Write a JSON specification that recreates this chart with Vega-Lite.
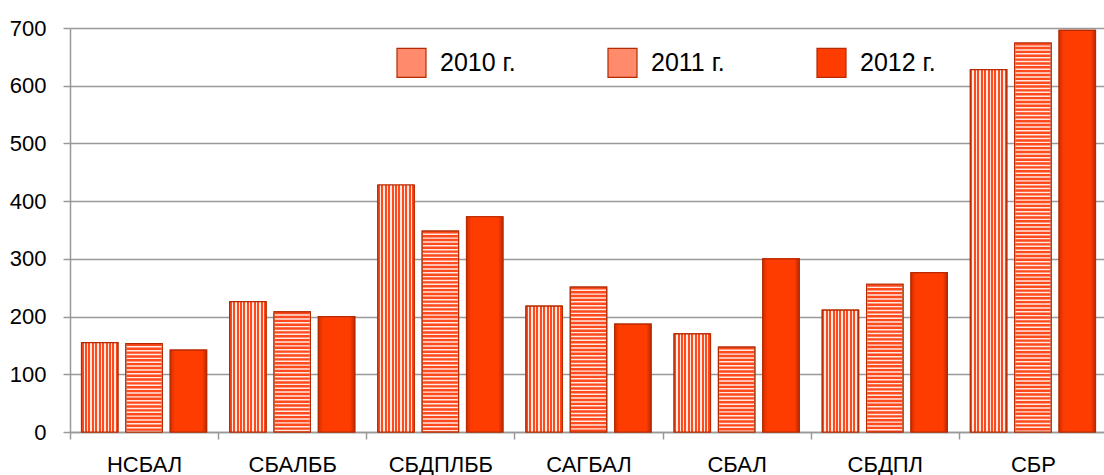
{
  "$schema": "https://vega.github.io/schema/vega-lite/v6.json",
  "width": 1037,
  "height": 404,
  "autosize": {"type": "none"},
  "padding": {"left": 70, "top": 28, "right": 0, "bottom": 43},
  "background": "white",
  "config": {"view": {"stroke": null}, "font": "Liberation Sans"},
  "data": {
    "values": [
      {"cat": "НСБАЛ", "year": "2010 г.", "v": 155},
      {"cat": "НСБАЛ", "year": "2011 г.", "v": 153},
      {"cat": "НСБАЛ", "year": "2012 г.", "v": 142},
      {"cat": "СБАЛББ", "year": "2010 г.", "v": 226},
      {"cat": "СБАЛББ", "year": "2011 г.", "v": 208},
      {"cat": "СБАЛББ", "year": "2012 г.", "v": 200},
      {"cat": "СБДПЛББ", "year": "2010 г.", "v": 428},
      {"cat": "СБДПЛББ", "year": "2011 г.", "v": 348},
      {"cat": "СБДПЛББ", "year": "2012 г.", "v": 373},
      {"cat": "САГБАЛ", "year": "2010 г.", "v": 218},
      {"cat": "САГБАЛ", "year": "2011 г.", "v": 251},
      {"cat": "САГБАЛ", "year": "2012 г.", "v": 187},
      {"cat": "СБАЛ", "year": "2010 г.", "v": 170},
      {"cat": "СБАЛ", "year": "2011 г.", "v": 147},
      {"cat": "СБАЛ", "year": "2012 г.", "v": 300},
      {"cat": "СБДПЛ", "year": "2010 г.", "v": 211},
      {"cat": "СБДПЛ", "year": "2011 г.", "v": 256},
      {"cat": "СБДПЛ", "year": "2012 г.", "v": 276},
      {"cat": "СБР", "year": "2010 г.", "v": 628},
      {"cat": "СБР", "year": "2011 г.", "v": 674},
      {"cat": "СБР", "year": "2012 г.", "v": 696}
    ]
  },
  "encoding": {
    "x": {
      "field": "cat",
      "type": "nominal",
      "sort": ["НСБАЛ", "СБАЛББ", "СБДПЛББ", "САГБАЛ", "СБАЛ", "СБДПЛ", "СБР"],
      "scale": {"paddingInner": 0, "paddingOuter": 0},
      "axis": {
        "title": null,
        "tickBand": "extent",
        "labelAngle": 0,
        "labelFontSize": 22,
        "labelColor": "black",
        "labelPadding": 15,
        "tickSize": 7,
        "tickColor": "#999999",
        "tickWidth": 1.5,
        "domainColor": "#999999",
        "domainWidth": 1.5,
        "grid": false
      }
    },
    "xOffset": {
      "field": "year",
      "type": "nominal",
      "scale": {"paddingInner": 0.18, "paddingOuter": 0.26}
    },
    "y": {
      "field": "v",
      "type": "quantitative",
      "scale": {"domain": [0, 700], "nice": false},
      "axis": {
        "title": null,
        "values": [0, 100, 200, 300, 400, 500, 600, 700],
        "grid": true,
        "gridColor": "#999999",
        "gridWidth": 1.5,
        "domainColor": "#999999",
        "domainWidth": 1.5,
        "tickColor": "#999999",
        "tickWidth": 1.5,
        "tickSize": 7,
        "labelFontSize": 22,
        "labelColor": "black",
        "labelPadding": 17
      }
    }
  },
  "layer": [
    {
      "mark": {"type": "bar", "stroke": "#B52A00", "strokeWidth": 1.2},
      "encoding": {
        "fill": {
          "field": "year",
          "type": "nominal",
          "scale": {
            "domain": ["2010 г.", "2011 г.", "2012 г."],
            "range": ["#FF8A6C", "#FF8A6C", "#FF3C00"]
          },
          "legend": {
            "orient": "none",
            "legendX": 326,
            "legendY": 19,
            "direction": "horizontal",
            "title": null,
            "symbolType": "square",
            "symbolSize": 841,
            "symbolStrokeColor": "#B52A00",
            "symbolStrokeWidth": 1.2,
            "symbolOpacity": 1,
            "labelFontSize": 25,
            "labelColor": "black",
            "labelOffset": 13,
            "columnPadding": 89,
            "encode": {
              "symbols": {
                "update": {
                  "opacity": {"value": 1},
                  "stroke": {"value": "#B52A00"},
                  "strokeWidth": {"value": 1.2}
                }
              }
            }
          }
        }
      }
    },
    {
      "transform": [{"filter": "datum.year === '2010 г.'"}],
      "mark": {"type": "bar", "stroke": "#B52A00", "strokeWidth": 1.2, "fill": {"gradient": "linear", "x1": 0, "y1": 0, "x2": 1, "y2": 0, "stops": [
        {"offset": 0, "color": "#FF4A1E"}, {"offset": 0.0571, "color": "#FF4A1E"}, {"offset": 0.0571, "color": "#FFE9E0"}, {"offset": 0.0943, "color": "#FFE9E0"},
        {"offset": 0.0943, "color": "#FF4A1E"}, {"offset": 0.1514, "color": "#FF4A1E"}, {"offset": 0.1514, "color": "#FFE9E0"}, {"offset": 0.1886, "color": "#FFE9E0"},
        {"offset": 0.1886, "color": "#FF4A1E"}, {"offset": 0.2457, "color": "#FF4A1E"}, {"offset": 0.2457, "color": "#FFE9E0"}, {"offset": 0.2829, "color": "#FFE9E0"},
        {"offset": 0.2829, "color": "#FF4A1E"}, {"offset": 0.34, "color": "#FF4A1E"}, {"offset": 0.34, "color": "#FFE9E0"}, {"offset": 0.3771, "color": "#FFE9E0"},
        {"offset": 0.3771, "color": "#FF4A1E"}, {"offset": 0.4343, "color": "#FF4A1E"}, {"offset": 0.4343, "color": "#FFE9E0"}, {"offset": 0.4714, "color": "#FFE9E0"},
        {"offset": 0.4714, "color": "#FF4A1E"}, {"offset": 0.5286, "color": "#FF4A1E"}, {"offset": 0.5286, "color": "#FFE9E0"}, {"offset": 0.5657, "color": "#FFE9E0"},
        {"offset": 0.5657, "color": "#FF4A1E"}, {"offset": 0.6229, "color": "#FF4A1E"}, {"offset": 0.6229, "color": "#FFE9E0"}, {"offset": 0.66, "color": "#FFE9E0"},
        {"offset": 0.66, "color": "#FF4A1E"}, {"offset": 0.7171, "color": "#FF4A1E"}, {"offset": 0.7171, "color": "#FFE9E0"}, {"offset": 0.7543, "color": "#FFE9E0"},
        {"offset": 0.7543, "color": "#FF4A1E"}, {"offset": 0.8114, "color": "#FF4A1E"}, {"offset": 0.8114, "color": "#FFE9E0"}, {"offset": 0.8486, "color": "#FFE9E0"},
        {"offset": 0.8486, "color": "#FF4A1E"}, {"offset": 0.9057, "color": "#FF4A1E"}, {"offset": 0.9057, "color": "#FFE9E0"}, {"offset": 0.9429, "color": "#FFE9E0"},
        {"offset": 0.9429, "color": "#FF4A1E"}, {"offset": 1, "color": "#FF4A1E"}
      ]}},
      "encoding": {}
    },
    {
      "transform": [{"filter": "datum.year === '2012 г.'"}],
      "mark": {"type": "bar", "stroke": "#B52A00", "strokeWidth": 1.2, "fill": {"gradient": "linear", "x1": 0, "y1": 0, "x2": 1, "y2": 0, "stops": [
        {"offset": 0, "color": "#D22E00"}, {"offset": 0.13, "color": "#FF3C00"}, {"offset": 0.87, "color": "#FF3C00"}, {"offset": 1, "color": "#C02800"}
      ]}},
      "encoding": {}
    },
    {
      "transform": [{"filter": "datum.year === '2011 г.'"}],
      "mark": {"type": "rule", "color": "#FFE9E0", "strokeWidth": 36},
      "encoding": {"y2": {"datum": 0}}
    },
    {
      "transform": [{"filter": "datum.year === '2011 г.'"}],
      "mark": {"type": "rule", "color": "#FF4A1E", "strokeWidth": 35, "strokeDash": [2.4, 1.45]},
      "encoding": {"y2": {"datum": 0}}
    },
    {
      "transform": [{"filter": "datum.year === '2011 г.'"}],
      "mark": {"type": "bar", "fill": "transparent", "stroke": "#B52A00", "strokeWidth": 1.2},
      "encoding": {}
    }
  ]
}
